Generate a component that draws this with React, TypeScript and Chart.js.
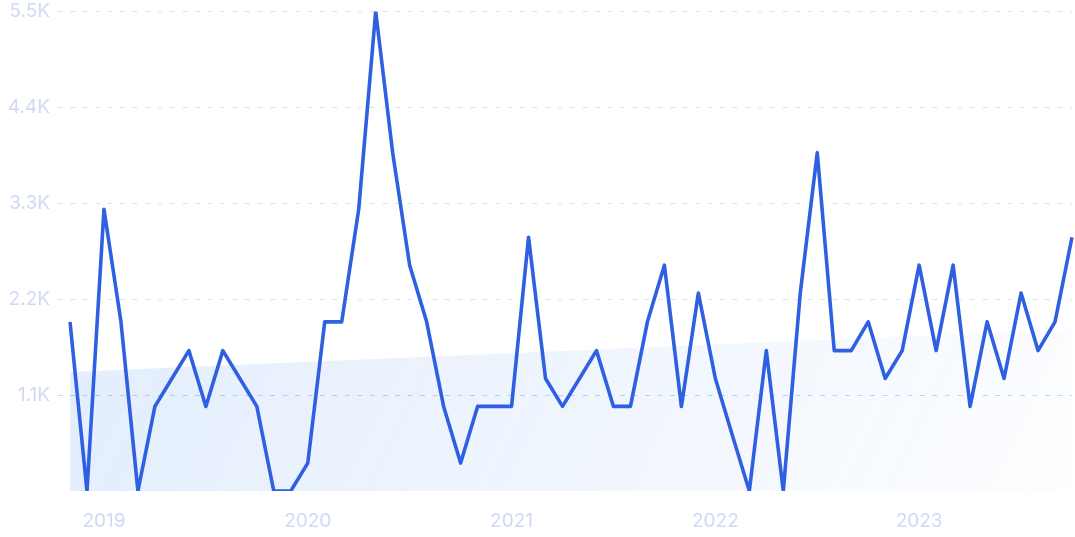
import React, { useEffect, useRef } from "react";
import { Chart, registerables } from "chart.js";

Chart.register(...registerables);

const months: string[] = [
  "2018-11", "2018-12",
  "2019-01", "2019-02", "2019-03", "2019-04", "2019-05", "2019-06", "2019-07", "2019-08", "2019-09", "2019-10", "2019-11", "2019-12",
  "2020-01", "2020-02", "2020-03", "2020-04", "2020-05", "2020-06", "2020-07", "2020-08", "2020-09", "2020-10", "2020-11", "2020-12",
  "2021-01", "2021-02", "2021-03", "2021-04", "2021-05", "2021-06", "2021-07", "2021-08", "2021-09", "2021-10", "2021-11", "2021-12",
  "2022-01", "2022-02", "2022-03", "2022-04", "2022-05", "2022-06", "2022-07", "2022-08", "2022-09", "2022-10", "2022-11", "2022-12",
  "2023-01", "2023-02", "2023-03", "2023-04", "2023-05", "2023-06", "2023-07", "2023-08", "2023-09", "2023-10",
];

const searches: number[] = [
  1940, 0,
  3230, 1940, 0, 970, 1290, 1610, 970, 1610, 1290, 970, 0, 0,
  320, 1940, 1940, 3230, 5500, 3880, 2590, 1940, 970, 320, 970, 970,
  970, 2910, 1290, 970, 1290, 1610, 970, 970, 1940, 2590, 970, 2270,
  1290, 640, 0, 1610, 0, 2270, 3880, 1610, 1610, 1940, 1290, 1610,
  2590, 1610, 2590, 970, 1940, 1290, 2270, 1610, 1940, 2910,
];

const trendStart = 1364;
const trendEnd = 1856;

const yTickValues: number[] = [0, 1100, 2200, 3300, 4400, 5500];
const yTickLabels: string[] = ["", "1.1K", "2.2K", "3.3K", "4.4K", "5.5K"];

const FONT = "Inter, 'Noto Sans', sans-serif";
const TICK_COLOR = "#d0d9f4";
const GRID_COLOR = "#d9e2f7";
const GRID_HILITE = "#b8d9fa";
const LINE_COLOR = "#2f60e2";

export default function App() {
  const ref = useRef<HTMLCanvasElement | null>(null);

  useEffect(() => {
    if (!ref.current) return;
    const gridColor = (ctx: any) =>
      ctx.tick && ctx.tick.value === 0
        ? "rgba(0,0,0,0)"
        : ctx.tick && ctx.tick.value === 1100
        ? GRID_HILITE
        : GRID_COLOR;
    const chart = new Chart(ref.current, {
      type: "line",
      data: {
        labels: months,
        datasets: [
          {
            label: "Searches",
            data: searches,
            borderColor: LINE_COLOR,
            borderWidth: 3.6,
            pointRadius: 0,
            tension: 0,
            fill: false,
            borderJoinStyle: "round",
          },
          {
            label: "Trend",
            data: [
              { x: months[0], y: trendStart },
              { x: months[months.length - 1], y: trendEnd },
            ] as any,
            borderWidth: 0,
            borderColor: "rgba(0,0,0,0)",
            pointRadius: 0,
            fill: "origin",
            backgroundColor: (ctx: any) => {
              const ca = ctx.chart.chartArea;
              if (!ca) return "rgba(60,130,235,0.12)";
              const g = ctx.chart.ctx.createLinearGradient(ca.left, ca.top, ca.right, ca.bottom);
              g.addColorStop(0, "rgba(55,130,235,0.16)");
              g.addColorStop(1, "rgba(55,130,235,0.01)");
              return g;
            },
          },
        ],
      },
      options: {
        animation: false,
        responsive: true,
        maintainAspectRatio: false,
        layout: { padding: { left: 0, right: 4, top: 0, bottom: 0 } },
        plugins: {
          legend: { display: false },
          tooltip: { enabled: false },
        },
        scales: {
          x: {
            type: "category",
            offset: false,
            grid: { display: false },
            border: { display: false },
            ticks: {
              autoSkip: false,
              maxRotation: 0,
              minRotation: 0,
              padding: 11,
              color: TICK_COLOR,
              font: { family: FONT, size: 19 },
              callback: (_v: any, i: number) => {
                const m = months[i];
                return m && m.endsWith("-01") ? m.slice(0, 4) : "";
              },
            },
            afterFit: (s: any) => {
              s.height = 46;
            },
          },
          y: {
            min: 0,
            max: 5500,
            afterBuildTicks: (s: any) => {
              s.ticks = yTickValues.map((v) => ({ value: v }));
            },
            border: { display: false, dash: [5, 7.5] },
            grid: {
              drawTicks: true,
              tickLength: 12,
              lineWidth: 1,
              color: gridColor,
              tickColor: gridColor,
              tickBorderDash: [5, 7.5],
            },
            ticks: {
              padding: 8,
              color: TICK_COLOR,
              font: { family: FONT, size: 19 },
              callback: (_v: any, i: number) => yTickLabels[i] ?? "",
            },
            afterFit: (s: any) => {
              s.width = 70;
            },
          },
        },
      },
    } as any);
    return () => chart.destroy();
  }, []);

  return (
    <div style={{ position: "absolute", left: 0, top: -8, width: 1083, height: 545, background: "#fff" }}>
      <canvas ref={ref} />
    </div>
  );
}
